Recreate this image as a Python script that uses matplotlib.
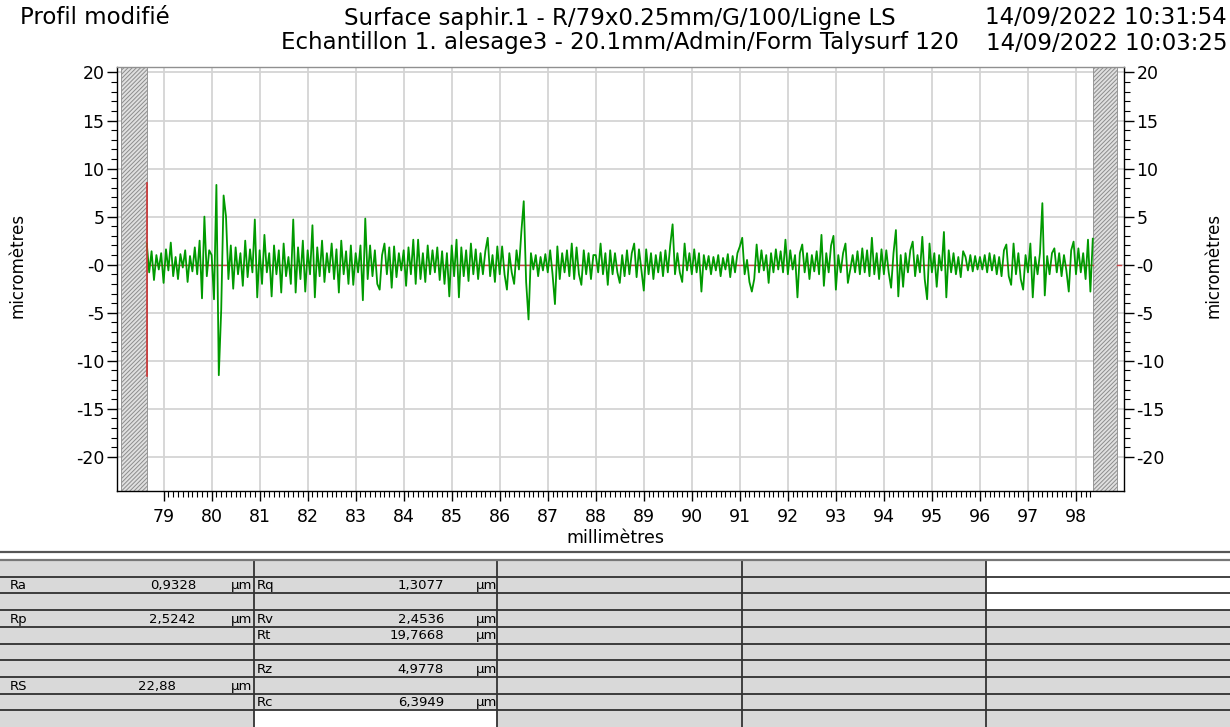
import matplotlib as mpl
mpl.use('Agg')
import matplotlib.pyplot as plt
import numpy as np
from matplotlib.ticker import FixedLocator, FixedFormatter
from matplotlib.patches import Rectangle

# profile, one value every 0.05 mm from 78.65 mm
x_start = 78.65
x_step = 0.05
profile = [
    2.2, -0.8, 1.4, -1.6, 1.0, -0.5, 1.2,
    # 79
    -1.9, 1.6, -0.6, 2.3, -1.2, 0.8, -1.5, 1.1, -0.3, 1.5,
    -1.8, 0.9, -0.7, 1.8, -1.0, 2.5, -3.5, 5.0, -1.2, 1.5,
    # 80
    1.0, -3.6, 8.3, -11.5, -4.7, 7.2, 5.0, -1.5, 2.0, -2.5,
    1.8, -1.0, 1.2, -2.2, 2.5, -1.3, 1.6, -0.8, 4.7, -3.4,
    # 81
    1.5, -2.0, 3.1, -0.8, 1.2, -3.3, 2.0, -1.0, 1.5, -2.9,
    2.2, -1.2, 0.8, -2.0, 4.7, -2.9, 1.8, -1.5, 2.5, -2.8,
    # 82
    1.5, -1.0, 4.1, -3.4, 1.8, -1.2, 2.5, -1.8, 1.2, -0.8,
    2.2, -1.5, 1.6, -2.9, 2.5, -1.0, 1.4, -2.0, 2.0, -2.1,
    # 83
    1.2, -0.8, 2.0, -3.7, 4.8, -1.5, 2.0, -1.2, 1.5, -2.0,
    -2.6, 1.0, 2.2, -1.0, 1.8, -2.4, 1.9, -1.3, 1.2, -0.6,
    # 84
    1.5, -2.2, 1.8, -1.0, 2.6, -2.0, 2.6, -1.5, 1.2, -1.8,
    2.0, -1.0, 1.5, -0.8, 1.8, -1.6, 1.4, -2.0, 1.2, -3.3,
    # 85
    2.0, -1.2, 2.6, -3.4, 1.8, -1.2, 1.5, -1.7, 2.2, -1.0,
    1.6, -1.5, 1.2, -1.0, 1.4, 2.8, -1.2, 1.0, -1.8, 1.9,
    # 86
    -1.0, 1.9, -1.0, -2.6, 1.2, -0.8, -2.0, 1.5, -0.5, 3.4,
    6.6, -1.8, -5.7, 1.2, -0.5, 1.0, -1.2, 0.8, -0.6, 1.1,
    # 87
    -0.8, 1.5, -1.0, -4.1, 1.9, -1.5, 1.2, -0.8, 1.5, -1.2,
    2.2, -1.5, 1.8, -1.0, -2.1, 1.5, -1.0, 1.2, -1.5, 1.0,
    # 88
    1.0, -0.8, 2.2, -1.0, 1.2, -2.1, 1.5, -1.0, 1.2, -0.8,
    -1.9, 1.0, -1.2, 1.5, -1.0, 1.2, 2.2, -1.3, 1.6, -0.6,
    # 89
    -2.7, 1.6, -1.0, 1.2, -1.5, 1.0, -0.8, 1.3, -1.2, 1.5,
    -0.8, 2.0, 4.2, -1.0, 1.2, -0.8, -1.8, 2.2, -0.6, 1.2,
    # 90
    -1.0, 1.6, -0.8, 1.2, -2.8, 1.0, -0.5, 0.9, -1.0, 0.8,
    -0.6, 1.0, -1.2, 0.7, -0.5, 1.1, -1.3, 0.9, -0.8, 1.2,
    # 91
    1.9, 2.8, -1.0, 0.5, -1.8, -2.8, -1.5, 2.1, -0.8, 1.5,
    -0.6, 1.0, -1.9, 1.2, -0.8, 1.6, -0.5, 1.4, -0.8, 2.6,
    # 92
    -1.0, 1.5, -0.5, 1.0, -3.4, 1.2, 2.1, -0.8, 1.2, -1.5,
    1.0, -0.7, 1.4, -1.0, 3.1, -2.2, 1.2, -0.8, 2.0, 3.0,
    # 93
    -2.6, 1.0, -0.8, 1.2, 2.2, -1.9, -0.5, 1.0, -0.8, 1.4,
    -1.0, 1.7, -0.8, 1.5, -1.2, 2.8, -1.0, 1.2, -1.5, 1.6,
    # 94
    -1.0, 1.5, -0.8, -2.4, 1.2, 3.6, -3.3, 1.0, -2.3, 1.2,
    -0.8, 1.5, 2.4, -1.2, 1.0, -0.8, 2.9, -1.5, -3.6, 2.2,
    # 95
    -0.8, 1.2, -2.3, 1.0, -0.6, 3.4, -3.4, 1.5, -0.8, 1.2,
    -1.0, 0.8, -1.3, 1.4, 0.8, -0.6, 1.0, -0.7, 0.9, -0.5,
    # 96
    0.8, -0.5, 1.0, -0.8, 1.2, -0.6, 1.0, -1.0, 0.8, -1.2,
    1.5, 2.1, -1.2, -2.1, 2.2, -1.0, 1.2, -1.5, -2.6, 1.0,
    # 97
    -0.8, 2.2, -3.4, 0.8, -1.0, 1.2, 6.4, -3.2, 0.9, -1.0,
    1.2, 1.7, -0.8, 1.2, -1.2, 1.0, -0.6, -2.8, 1.5, 2.4,
    # 98
    -1.0, 1.7, -0.8, 1.2, -1.5, 2.6, -2.8, 2.7,
]

profile_start = 78.65
profile_end = 98.35
excluded_left = (78.12, 78.65)
excluded_right = (98.35, 98.86)
red_bar = (-11.6, 8.5)

x_ticks = list(range(79, 99))
y_ticks = [20, 15, 10, 5, 0, -5, -10, -15, -20]
y_tick_labels = ['20', '15', '10', '5', '-0', '-5', '-10', '-15', '-20']

title_left = "Profil modifié"
title_line1 = "Surface saphir.1 - R/79x0.25mm/G/100/Ligne LS"
title_line2 = "Echantillon 1. alesage3 - 20.1mm/Admin/Form Talysurf 120"
date_line1 = "14/09/2022 10:31:54"
date_line2 = "14/09/2022 10:03:25"

# results table
col1_names = ["Ra", "Rp", "RS"]
col1_values = ["0,9328", "2,5242", "22,88"]
col1_rows = [1, 3, 7]
col2_names = ["Rq", "Rv", "Rt", "Rz", "Rc"]
col2_values = ["1,3077", "2,4536", "19,7668", "4,9778", "6,3949"]
col2_rows = [1, 3, 4, 6, 8]
unit = "µm"

W, H = 1230, 727
plt.rcParams['font.family'] = 'DejaVu Sans'
plt.rcParams['hatch.linewidth'] = 0.7
plt.rcParams['hatch.color'] = '#8c8c8c'

fig = plt.figure(figsize=(W / 100, H / 100), dpi=100)
fig.patch.set_facecolor('white')

# main profile axes (pixel box 117..1124, 66.7..491)
ax = fig.add_axes([117 / W, 1 - 491 / H, (1124 - 117) / W, (491 - 66.7) / H])
ax.set_xlim(78.03, 99.0)
ax.set_ylim(-23.55, 20.6)

ax.set_xticks(x_ticks)
ax.set_xticklabels([str(t) for t in x_ticks])
ax.xaxis.set_minor_locator(FixedLocator(np.arange(79.1, 98.35, 0.1)))
ax.yaxis.set_major_locator(FixedLocator(y_ticks))
ax.yaxis.set_major_formatter(FixedFormatter(y_tick_labels))
ax.yaxis.set_minor_locator(FixedLocator(np.arange(-20, 21, 1)))

ax.grid(True, which='major', color='#d4d4d4', lw=1.3)
ax.set_axisbelow(True)

ax.tick_params(axis='x', which='major', direction='out', length=7, width=1, labelsize=12.5, pad=5)
ax.tick_params(axis='x', which='minor', direction='out', length=4, width=0.8)
ax.tick_params(axis='y', which='major', direction='out', length=7, width=1, labelsize=12.5, pad=2,
               left=True, right=True, labelleft=True, labelright=True)
ax.tick_params(axis='y', which='minor', direction='out', length=4, width=0.8, left=True, right=True)

for side in ['left', 'right', 'bottom']:
    ax.spines[side].set_color('black')
    ax.spines[side].set_linewidth(1.0)
ax.spines['top'].set_color('#909090')
ax.spines['top'].set_linewidth(1.0)

# excluded zones
for x0, x1 in [excluded_left, excluded_right]:
    ax.axvspan(x0, x1, facecolor='#e0e0e0', edgecolor='#8c8c8c', hatch='////////', lw=0.6, zorder=2)

x_vals = x_start + x_step * np.arange(len(profile))
ax.plot([profile_start, profile_end], [0, 0], color='#cc4444', lw=1.0, zorder=3)
ax.plot([excluded_right[1], excluded_right[1] + 0.08], [0, 0], color='#cc4444', lw=1.0, zorder=3)
ax.plot(x_vals, profile, color='#009a00', lw=1.3, zorder=4)
ax.plot([profile_start, profile_start], red_bar, color='#cc3333', lw=1.2, zorder=5)

fig.text(615 / W, 1 - 538 / H, "millimètres", ha='center', va='center', fontsize=12.5)
fig.text(18 / W, 1 - 265 / H, "micromètres", ha='center', va='center', rotation=90, fontsize=12)
fig.text(1213 / W, 1 - 265 / H, "micromètres", ha='center', va='center', rotation=90, fontsize=12)

# header
fig.text(20 / W, 1 - 18 / H, title_left, ha='left', va='center', fontsize=16.5)
fig.text(620 / W, 1 - 18 / H, title_line1, ha='center', va='center', fontsize=16.5)
fig.text(620 / W, 1 - 43 / H, title_line2, ha='center', va='center', fontsize=16.5)
fig.text(1227 / W, 1 - 18 / H, date_line1, ha='right', va='center', fontsize=16.5)
fig.text(1227 / W, 1 - 43 / H, date_line2, ha='right', va='center', fontsize=16.5)

# table drawn in pixel coordinates
tab = fig.add_axes([0, 0, 1, 1], zorder=-1)
tab.set_xlim(0, W)
tab.set_ylim(H, 0)
tab.axis('off')

col_edges = [0, 254, 497, 742, 986, W]
top = 560
n_rows = 10
row_h = (H - top) / n_rows
white_cells = [(0, 4), (1, 4), (2, 4), (9, 1)]
for r in range(n_rows):
    for c in range(5):
        fc = 'white' if (r, c) in white_cells else '#d9d9d9'
        tab.add_patch(Rectangle((col_edges[c], top + r * row_h), col_edges[c + 1] - col_edges[c], row_h,
                                facecolor=fc, edgecolor='none'))
for r in range(1, n_rows):
    tab.plot([0, W], [top + r * row_h] * 2, color='#222222', lw=1.2)
for xe in col_edges[1:-1]:
    tab.plot([xe, xe], [top, H], color='#333333', lw=1.3)
tab.plot([0, W], [552, 552], color='#555555', lw=1.6)
tab.plot([0, W], [top, top], color='#777777', lw=1.6)

fs = 9.5
for name, val, r in zip(col1_names, col1_values, col1_rows):
    yc = top + (r + 0.55) * row_h
    tab.text(10, yc, name, ha='left', va='center', fontsize=fs)
    vx = 176 if name == "RS" else 196
    tab.text(vx, yc, val, ha='right', va='center', fontsize=fs)
    tab.text(231, yc, unit, ha='left', va='center', fontsize=fs)
for name, val, r in zip(col2_names, col2_values, col2_rows):
    yc = top + (r + 0.55) * row_h
    tab.text(257, yc, name, ha='left', va='center', fontsize=fs)
    tab.text(444, yc, val, ha='right', va='center', fontsize=fs)
    tab.text(476, yc, unit, ha='left', va='center', fontsize=fs)

fig.savefig('out.png', dpi=100)
